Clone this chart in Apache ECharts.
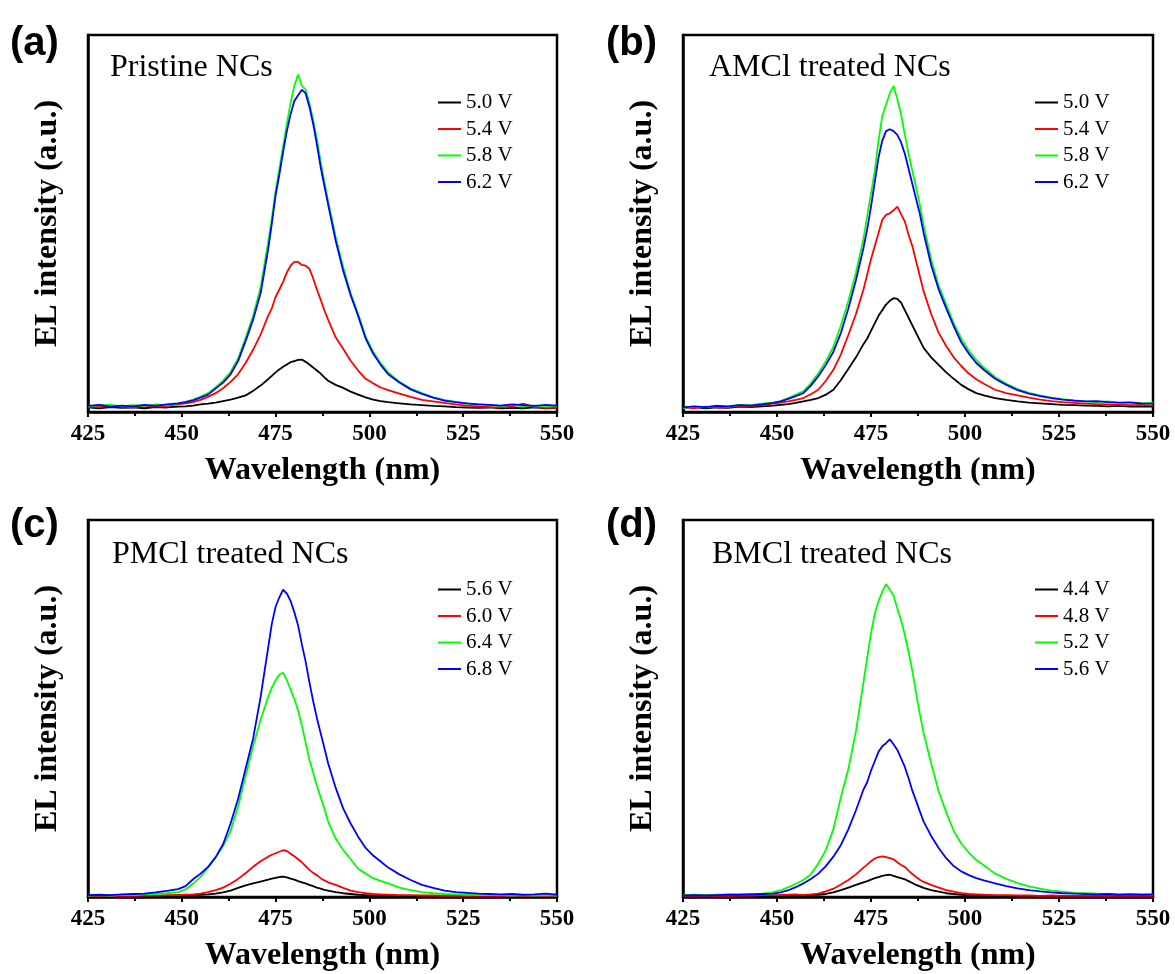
<!DOCTYPE html>
<html>
<head>
<meta charset="utf-8">
<script src="https://cdn.jsdelivr.net/npm/echarts@6/dist/echarts.min.js"></script>
<style>
html,body{margin:0;padding:0;background:#fff;}
#chart{width:1175px;height:974px;}
</style>
</head>
<body>
<div id="chart"></div>
<script>
// Wavelength grid (nm)
var wavelengths = [425,428,431,434,437,440,443,446,449,451,453,455,457,459,461,463,465,467,469,471,473,474,475,476,477,478,479,480,481,482,483,484,485,486,487,488,489,491,493,495,497,499,501,503,505,508,511,514,517,520,523,526,529,532,535,538,541,544,547,550];
var xTicks = [425,450,475,500,525,550];

var panelLabels = ['(a)','(b)','(c)','(d)'];
var panelTitles = ['Pristine NCs','AMCl treated NCs','PMCl treated NCs','BMCl treated NCs'];
var voltagesA = ['5.0 V','5.4 V','5.8 V','6.2 V'];
var voltagesB = ['5.0 V','5.4 V','5.8 V','6.2 V'];
var voltagesC = ['5.6 V','6.0 V','6.4 V','6.8 V'];
var voltagesD = ['4.4 V','4.8 V','5.2 V','5.6 V'];

// (a) Pristine NCs
var a_black = [1.2,1.0,1.3,1.1,1.2,1.0,1.3,1.2,1.4,1.5,1.7,2.0,2.2,2.5,2.9,3.3,3.8,4.4,5.6,7.0,8.7,9.6,10.5,11.3,12.0,12.6,13.2,13.5,13.8,13.9,13.3,12.6,11.8,11.0,10.2,9.2,8.3,7.2,6.4,5.4,4.6,3.9,3.3,2.9,2.6,2.3,2.0,1.8,1.6,1.5,1.3,1.2,1.1,1.2,1.0,1.1,1.0,1.2,1.0,1.1];
var a_red   = [1.5,1.3,1.6,1.4,1.2,1.6,1.4,1.7,2.0,2.3,2.6,3.2,4.0,5.0,6.3,8.0,10.0,13.0,16.5,20.5,25.5,27.5,30.5,32.5,34.5,37.0,38.8,39.8,39.8,39.0,38.8,38.0,35.5,32.5,29.8,27.0,24.5,19.8,16.8,13.6,11.0,8.8,7.6,6.5,5.8,4.9,4.0,3.2,2.8,2.4,2.0,1.7,1.5,1.3,1.2,1.4,2.2,1.3,1.1,1.2];
var a_green = [1.4,1.8,1.9,1.5,1.8,1.6,2.0,1.8,2.2,2.7,3.3,4.1,5.0,6.6,8.3,10.6,14.2,19.6,25.5,33.0,45.0,51.5,58.5,64.5,70.5,76.5,82.0,86.5,89.5,86.5,85.5,82.0,77.5,72.5,66.5,61.0,56.0,46.5,38.5,31.5,26.0,20.0,16.0,13.0,10.5,8.0,6.2,5.0,3.9,3.2,2.7,2.2,2.1,1.8,1.6,1.9,1.5,1.7,1.4,1.6];
var a_blue  = [1.6,1.9,1.4,1.7,1.5,1.9,1.6,2.0,2.3,2.6,3.1,3.8,4.6,6.2,7.8,10.0,13.5,18.8,24.5,31.5,43.0,50.0,57.5,63.0,69.0,74.5,79.0,82.5,84.0,85.5,84.5,81.0,76.5,71.0,65.0,60.0,55.0,45.5,37.5,31.0,25.5,19.5,15.5,12.5,10.0,7.8,6.0,4.8,3.8,3.0,2.6,2.3,2.0,1.9,1.7,2.0,1.8,1.6,1.9,1.7];

// (b) AMCl treated NCs
var b_black = [1.1,1.3,1.0,1.2,1.1,1.4,1.3,1.5,1.7,1.9,2.1,2.4,2.8,3.2,3.7,4.6,5.9,8.5,11.5,14.5,18.0,19.5,21.5,23.5,25.5,27.0,28.5,29.5,30.2,30.0,29.0,27.0,25.0,23.0,21.0,19.0,17.0,14.5,12.5,10.5,8.8,7.2,6.0,5.0,4.4,3.7,3.2,2.8,2.5,2.3,2.1,1.9,1.8,1.7,1.6,1.5,1.6,1.4,1.5,1.4];
var b_red   = [1.3,1.0,1.4,1.2,1.3,1.6,1.5,1.9,2.2,2.5,2.8,3.2,3.7,4.7,5.9,8.3,11.2,15.3,20.5,26.0,32.5,36.5,40.5,44.0,47.5,51.0,52.3,52.7,53.5,54.5,52.5,50.5,47.0,44.0,40.0,36.0,32.0,26.0,21.0,17.5,14.5,12.2,10.2,8.7,7.5,5.9,5.0,4.4,3.8,3.3,2.9,2.6,2.4,2.2,2.1,2.0,1.9,1.8,1.9,1.7];
var b_green = [1.0,1.4,1.2,1.7,1.4,1.9,1.8,2.2,2.5,2.9,3.7,4.6,5.5,7.6,10.3,13.5,17.3,23.0,29.5,37.0,46.0,52.0,58.0,64.0,72.0,78.5,81.5,84.5,86.5,83.0,79.0,73.5,68.5,64.0,59.5,55.0,49.5,40.5,33.5,28.5,23.5,19.5,16.3,13.8,11.8,9.3,7.5,6.1,5.1,4.4,3.8,3.4,3.1,2.8,2.6,2.8,2.4,2.6,2.3,2.4];
var b_blue  = [1.2,1.5,1.3,1.6,1.5,1.8,1.7,2.0,2.4,2.8,3.5,4.2,5.0,7.0,9.5,12.5,16.0,21.0,27.5,35.0,43.5,48.5,54.5,61.0,67.5,72.0,74.5,75.0,74.5,73.5,71.5,68.5,64.5,60.5,56.5,52.5,47.5,39.0,32.5,27.5,22.8,18.5,15.5,13.0,11.2,8.8,7.2,5.8,4.9,4.2,3.7,3.3,3.0,2.8,2.9,2.6,2.5,2.5,2.3,2.2];

// (c) PMCl treated NCs
var c_black = [0.3,0.3,0.2,0.3,0.2,0.3,0.3,0.3,0.4,0.4,0.5,0.6,0.7,0.9,1.2,1.7,2.4,3.1,3.6,4.1,4.6,4.9,5.1,5.3,5.4,5.2,4.9,4.6,4.2,3.9,3.6,3.2,2.9,2.5,2.2,1.9,1.7,1.3,1.0,0.8,0.6,0.5,0.4,0.4,0.3,0.3,0.3,0.2,0.3,0.2,0.3,0.2,0.2,0.3,0.2,0.2,0.3,0.2,0.2,0.2];
var c_red   = [0.3,0.4,0.3,0.4,0.3,0.4,0.4,0.5,0.5,0.6,0.7,0.9,1.3,1.8,2.5,3.5,4.8,6.3,8.0,9.5,10.7,11.2,11.6,12.0,12.4,12.2,11.5,10.8,10.0,9.2,8.2,7.2,6.4,5.8,5.0,4.4,3.9,3.2,2.4,1.7,1.3,1.0,0.8,0.7,0.6,0.5,0.5,0.4,0.4,0.3,0.4,0.3,0.3,0.4,0.3,0.3,0.4,0.3,0.3,0.3];
var c_green = [0.4,0.5,0.4,0.6,0.5,0.7,0.8,1.0,1.3,2.0,3.5,5.4,7.8,10.5,13.5,17.5,24.0,32.0,40.0,47.0,53.0,55.5,57.5,59.0,59.5,57.5,55.0,52.5,49.5,45.5,41.0,36.5,33.0,29.5,26.5,23.5,20.0,15.5,12.5,10.0,7.5,6.2,5.0,4.3,3.6,2.5,1.8,1.3,1.0,0.8,0.7,0.6,0.5,0.6,0.5,0.4,0.5,0.4,0.5,0.4];
var c_blue  = [0.5,0.6,0.5,0.7,0.8,0.9,1.2,1.6,2.1,2.9,4.7,6.2,8.0,10.5,14.0,19.5,26.0,34.0,42.0,53.0,66.0,72.5,77.0,79.5,81.5,80.5,78.5,75.5,72.0,67.0,62.5,57.0,52.0,47.5,43.5,39.5,35.5,29.0,23.5,19.5,16.0,13.0,11.0,9.4,7.8,6.0,4.5,3.2,2.4,1.7,1.3,1.1,0.9,0.8,0.7,0.8,0.6,0.7,0.9,0.6];

// (d) BMCl treated NCs
var d_black = [0.2,0.3,0.2,0.3,0.2,0.3,0.3,0.3,0.3,0.4,0.4,0.4,0.5,0.5,0.6,0.8,1.2,1.8,2.5,3.2,3.9,4.2,4.6,5.0,5.3,5.6,5.8,5.9,5.6,5.3,5.0,4.7,4.2,3.7,3.2,2.8,2.4,1.8,1.4,1.0,0.8,0.6,0.5,0.4,0.4,0.3,0.3,0.3,0.2,0.3,0.2,0.2,0.3,0.2,0.2,0.3,0.2,0.2,0.3,0.2];
var d_red   = [0.3,0.4,0.3,0.4,0.3,0.4,0.4,0.5,0.5,0.5,0.6,0.7,0.5,0.7,0.9,1.5,2.2,3.3,4.5,6.0,7.8,8.6,9.5,10.2,10.6,10.8,10.6,10.3,10.0,9.2,8.5,8.0,7.0,6.1,5.3,4.6,4.0,3.2,2.5,1.8,1.4,1.0,0.8,0.7,0.6,0.5,0.5,0.4,0.4,0.3,0.4,0.3,0.3,0.3,0.4,0.3,0.3,0.4,0.3,0.3];
var d_green = [0.5,0.6,0.5,0.6,0.7,0.7,0.8,0.9,1.3,1.8,2.6,3.5,4.5,6.0,8.9,12.5,18.0,26.5,34.0,44.0,57.0,63.5,70.0,75.0,78.5,81.0,83.0,81.5,80.0,76.5,73.5,69.5,65.0,60.0,54.0,48.5,43.5,35.5,28.0,22.5,17.5,14.2,11.8,9.8,8.4,6.2,4.8,3.7,2.8,2.2,1.7,1.4,1.1,1.0,0.9,0.8,0.7,0.8,0.7,0.7];
var d_blue  = [0.4,0.5,0.4,0.5,0.6,0.6,0.7,0.8,0.9,1.2,1.8,2.6,3.6,4.8,6.2,8.2,10.7,13.8,18.0,23.0,28.5,30.5,33.5,36.0,38.5,40.0,40.8,41.8,40.5,39.0,36.8,34.5,31.5,28.2,25.5,22.7,20.0,16.2,13.0,10.3,8.2,6.8,5.8,5.0,4.4,3.6,2.9,2.3,1.8,1.5,1.2,1.0,0.9,0.8,0.7,0.8,0.6,0.7,0.6,0.7];

var seriesColors = ['#000000','#ff0000','#00ff00','#0000ff'];
var panelVoltages = [voltagesA, voltagesB, voltagesC, voltagesD];
var panelData = [
  [a_black,a_red,a_green,a_blue],
  [b_black,b_red,b_green,b_blue],
  [c_black,c_red,c_green,c_blue],
  [d_black,d_red,d_green,d_blue]
];

// layout
var grids = [
  {left:88, top:35, width:469, height:377},
  {left:683, top:35, width:470, height:377},
  {left:88, top:520, width:469, height:377},
  {left:683, top:520, width:470, height:377}
];
var labelPos = [{left:10, top:24},{left:606, top:24},{left:10, top:506},{left:606, top:506}];
var titlePos = [{left:110, top:52},{left:709, top:52},{left:112, top:539},{left:712, top:539}];
var legendPos = [{left:438, top:92},{left:1035, top:92},{left:438, top:579},{left:1035, top:579}];

var serif = 'Liberation Serif, Times New Roman, serif';
var option = {
  animation:false,
  backgroundColor:'#ffffff',
  grid:[], xAxis:[], yAxis:[], series:[], legend:[], title:[]
};

for (var p=0; p<4; p++){
  var g = grids[p];
  option.grid.push({left:g.left, top:g.top, width:g.width, height:g.height, show:true, borderColor:'#000', borderWidth:2.5, backgroundColor:'transparent', containLabel:false});
  option.xAxis.push({
    type:'value', gridIndex:p, min:425, max:550, interval:25,
    name:'Wavelength (nm)', nameLocation:'middle', nameGap:43,
    nameTextStyle:{fontFamily:serif, fontWeight:'bold', fontSize:32, color:'#000'},
    axisLine:{show:true, onZero:false, lineStyle:{color:'#000', width:2.5}},
    axisTick:{show:true, inside:false, length:5, lineStyle:{color:'#000', width:2}},
    minorTick:{show:true, splitNumber:2, length:4, lineStyle:{color:'#000', width:2}},
    axisLabel:{margin:11, fontFamily:serif, fontWeight:'bold', fontSize:23, color:'#000',
      formatter:function(v){ return xTicks.indexOf(v) >= 0 ? String(v) : ''; }},
    splitLine:{show:false}
  });
  option.yAxis.push({
    type:'value', gridIndex:p, min:0, max:100,
    name:'EL intensity (a.u.)', nameLocation:'middle', nameGap:24,
    nameTextStyle:{fontFamily:serif, fontWeight:'bold', fontSize:32, color:'#000'},
    axisLine:{show:true, lineStyle:{color:'#000', width:2.5}},
    axisTick:{show:false}, axisLabel:{show:false}, splitLine:{show:false}
  });
  var legendData = [];
  for (var s=0; s<4; s++){
    var vals = panelData[p][s];
    var pts = wavelengths.map(function(w,i){ return [w, vals[i]]; });
    option.series.push({
      type:'line', name:panelVoltages[p][s], xAxisIndex:p, yAxisIndex:p,
      data:pts, symbol:'none', showSymbol:false, clip:true,
      lineStyle:{color:seriesColors[s], width:1.8},
      itemStyle:{color:seriesColors[s]},
      z:2+s
    });
    legendData.push({name:panelVoltages[p][s], itemStyle:{color:seriesColors[s]}, icon:'rect'});
  }
  option.legend.push({
    left:legendPos[p].left, top:legendPos[p].top, orient:'vertical',
    itemWidth:23, itemHeight:2, itemGap:5.5, selectedMode:false, padding:0,
    textStyle:{fontFamily:serif, fontSize:21, color:'#000', lineHeight:21},
    data:legendData
  });
  option.title.push({
    text:panelLabels[p], left:labelPos[p].left, top:labelPos[p].top, padding:0,
    textStyle:{fontFamily:'Liberation Sans, Arial, sans-serif', fontWeight:'bold', fontSize:40, color:'#000'}
  });
  option.title.push({
    text:panelTitles[p], left:titlePos[p].left, top:titlePos[p].top, padding:0,
    textStyle:{fontFamily:serif, fontWeight:'normal', fontSize:32, color:'#000'}
  });
}

var chart = echarts.init(document.getElementById('chart'), null, {renderer:'canvas'});
chart.setOption(option);
</script>
</body>
</html>
